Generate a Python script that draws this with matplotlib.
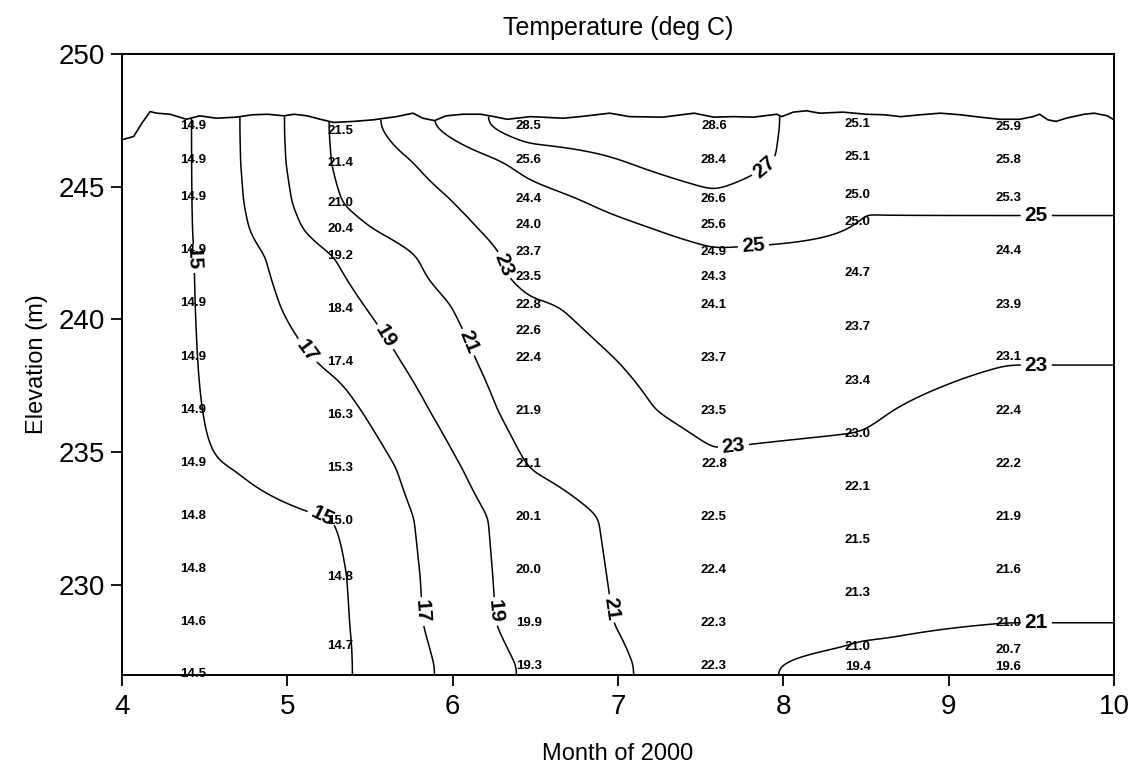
import numpy as np
import matplotlib
matplotlib.use("Agg")
import matplotlib.pyplot as plt

plt.rcParams['font.family'] = ['Liberation Sans', 'DejaVu Sans']

# ---- data: sampling dates (month of 2000) ----
col_months = [4.43, 5.32, 6.46, 7.58, 8.45, 9.36]

# profiles: elevation (m) and temperature (deg C) for each sampling date
elev_1 = [247.3, 246.0, 244.6, 242.6, 240.6, 238.6, 236.6, 234.6, 232.6, 230.6, 228.6, 226.65]
temp_1 = [14.9, 14.9, 14.9, 14.9, 14.9, 14.9, 14.9, 14.9, 14.8, 14.8, 14.6, 14.5]

elev_2 = [247.1, 245.9, 244.4, 243.4, 242.4, 240.4, 238.4, 236.4, 234.4, 232.4, 230.3, 227.7]
temp_2 = [21.5, 21.4, 21.0, 20.4, 19.2, 18.4, 17.4, 16.3, 15.3, 15.0, 14.8, 14.7]

elev_3 = [247.3, 246.0, 244.55, 243.55, 242.55, 241.6, 240.55, 239.55, 238.55, 236.55,
          234.55, 232.55, 230.55, 228.55, 226.95]
temp_3 = [28.5, 25.6, 24.4, 24.0, 23.7, 23.5, 22.8, 22.6, 22.4, 21.9, 21.1, 20.1, 20.0, 19.9, 19.3]

elev_4 = [247.3, 246.0, 244.55, 243.55, 242.55, 241.6, 240.55, 238.55, 236.55, 234.55,
          232.55, 230.55, 228.55, 226.95]
temp_4 = [28.6, 28.4, 26.6, 25.6, 24.9, 24.3, 24.1, 23.7, 23.5, 22.8, 22.5, 22.4, 22.3, 22.3]

elev_5 = [247.37, 246.13, 244.7, 243.68, 241.73, 239.7, 237.67, 235.68, 233.68, 231.69,
          229.7, 227.67, 226.92]
temp_5 = [25.1, 25.1, 25.0, 25.0, 24.7, 23.7, 23.4, 23.0, 22.1, 21.5, 21.3, 21.0, 19.4]

elev_6 = [247.26, 246.02, 244.59, 242.56, 240.53, 238.57, 236.54, 234.55, 232.56, 230.57,
          228.57, 227.55, 226.92]
temp_6 = [25.9, 25.8, 25.3, 24.4, 23.9, 23.1, 22.4, 22.2, 21.9, 21.6, 21.0, 20.7, 19.6]

# water surface elevation through time
surf_months = [4.00, 4.07, 4.12, 4.17, 4.21, 4.29, 4.39, 4.47, 4.57, 4.69, 4.79, 4.88, 4.98,
               5.04, 5.12, 5.20, 5.28, 5.40, 5.52, 5.66, 5.76, 5.82, 5.89, 5.96, 6.06, 6.17,
               6.25, 6.33, 6.47, 6.67, 6.77, 6.95, 7.07, 7.27, 7.46, 7.58, 7.70, 7.82, 7.96,
               7.99, 8.06, 8.14, 8.22, 8.36, 8.50, 8.61, 8.71, 8.83, 8.95, 9.07, 9.19, 9.31,
               9.43, 9.51, 9.55, 9.60, 9.65, 9.71, 9.82, 9.88, 9.96, 10.00]
surf_elev = [246.77, 246.89, 247.39, 247.83, 247.77, 247.73, 247.54, 247.67, 247.58, 247.62,
             247.71, 247.73, 247.67, 247.73, 247.67, 247.54, 247.42, 247.46, 247.52, 247.64,
             247.77, 247.58, 247.49, 247.67, 247.73, 247.73, 247.64, 247.54, 247.64, 247.58,
             247.64, 247.77, 247.64, 247.62, 247.77, 247.62, 247.64, 247.62, 247.73, 247.64,
             247.81, 247.86, 247.77, 247.81, 247.73, 247.71, 247.64, 247.71, 247.77, 247.71,
             247.62, 247.54, 247.54, 247.64, 247.73, 247.52, 247.46, 247.58, 247.73, 247.77,
             247.67, 247.52]

contour_levels = [15, 17, 19, 21, 23, 25, 27]
x_ticks = [4, 5, 6, 7, 8, 9, 10]
y_ticks = [230, 235, 240, 245, 250]

elevs = [elev_1, elev_2, elev_3, elev_4, elev_5, elev_6]
temps = [temp_1, temp_2, temp_3, temp_4, temp_5, temp_6]

# ---- gridding: linear in elevation within each profile, then linear in time ----
ylo, yhi = 226.6, 250.0
E = np.linspace(ylo, 248.2, 541)
T = np.linspace(4, 10, 1201)
prof = np.array([np.interp(E, np.array(e)[::-1], np.array(v)[::-1]) for e, v in zip(elevs, temps)])
Z = np.array([np.interp(T, col_months, prof[:, j]) for j in range(len(E))])


def smooth1d(A, sigma_cells, axis):
    r = int(3 * sigma_cells)
    k = np.exp(-0.5 * (np.arange(-r, r + 1) / sigma_cells) ** 2)
    k /= k.sum()
    pad = [(0, 0), (0, 0)]
    pad[axis] = (r, r)
    P = np.pad(A, pad, mode='edge')
    return np.apply_along_axis(lambda v: np.convolve(v, k, mode='valid'), axis, P)


dt = T[1] - T[0]
de = E[1] - E[0]
Z = smooth1d(Z, 0.045 / dt, axis=1)
Z = smooth1d(Z, 0.2 / de, axis=0)

S = np.interp(T, surf_months, surf_elev)
Z = np.ma.masked_where(E[:, None] > S[None, :], Z)

# ---- figure ----
fig = plt.figure(figsize=(11.35, 7.73), dpi=100)
ax = fig.add_axes([122 / 1135, 1 - 675 / 773, (1114 - 122) / 1135, (675 - 54) / 773])

cs = ax.contour(T, E, Z, levels=contour_levels, colors='black', linewidths=1.1)
label_pos = [(4.47, 242.3), (5.23, 232.85),
             (5.15, 238.95), (5.85, 229.0),
             (5.58, 239.3), (6.27, 229.0),
             (6.06, 239.06), (6.82, 229.0), (9.53, 228.6),
             (6.29, 242.0), (7.70, 235.15), (9.53, 238.2),
             (7.82, 242.7), (9.53, 243.9),
             (7.88, 245.8)]
ax.clabel(cs, inline=True, fmt='%d', fontsize=15, manual=label_pos,
          inline_spacing=4)
for t in cs.labelTexts:
    t.set_fontweight('bold')

ax.plot(surf_months, surf_elev, color='black', lw=1.2)

for m, e, v in zip(col_months, elevs, temps):
    for ee, vv in zip(e, v):
        ax.text(m, ee, f"{vv:.1f}", ha='center', va='center', fontsize=9.5,
                fontweight='bold', color='black')

ax.set_xlim(4, 10)
ax.set_ylim(ylo, yhi)
ax.set_xticks(x_ticks)
ax.set_yticks(y_ticks)
ax.tick_params(direction='out', length=8, width=1.3, labelsize=20, pad=4)
ax.tick_params(axis='x', pad=6)
for sp in ax.spines.values():
    sp.set_linewidth(1.4)

ax.set_title('Temperature (deg C)', fontsize=18, pad=14)
ax.set_xlabel('Month of 2000', fontsize=17, labelpad=16)
ax.set_ylabel('Elevation (m)', fontsize=17, labelpad=8)

fig.savefig('out.png', dpi=100)
